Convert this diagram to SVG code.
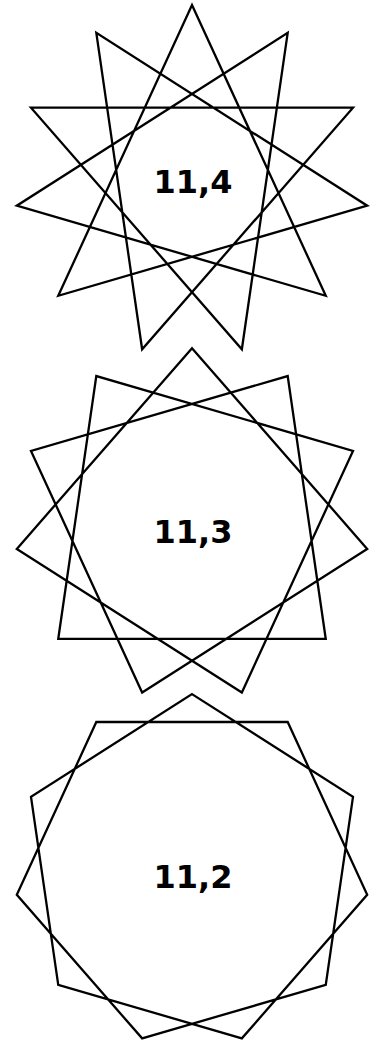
<svg xmlns="http://www.w3.org/2000/svg" width="378" height="1042" viewBox="0 0 378 1042">
<style>
.star{fill:none;stroke:#000;stroke-width:2.3;stroke-linejoin:miter;stroke-miterlimit:20}
.lbl{font-family:"DejaVu Sans",sans-serif;font-weight:bold;font-size:32px;text-anchor:middle;fill:#000}
</style>
<rect width="378" height="1042" fill="#fff"/>
<g id="star-11-4">
<polygon class="star" points="192,5 325.76,295.77 16.81,205.70 287.69,32.88 241.86,349.28 31,107.71 353,107.71 142.14,349.28 96.31,32.88 367.19,205.70 58.24,295.77"/>
<text class="lbl" x="193" y="193">11,4</text>
</g>
<g id="star-11-3">
<polygon class="star" points="192,348.2 367.19,548.90 142.14,692.48 31,450.91 287.69,376.08 325.76,638.97 58.24,638.97 96.31,376.08 353,450.91 241.86,692.48 16.81,548.90"/>
<text class="lbl" x="193" y="543">11,3</text>
</g>
<g id="star-11-2">
<polygon class="star" points="192,694.1 353,796.81 325.76,984.87 142.14,1038.38 16.81,894.80 96.31,721.98 287.69,721.98 367.19,894.80 241.86,1038.38 58.24,984.87 31,796.81"/>
<text class="lbl" x="193" y="888">11,2</text>
</g>
</svg>
